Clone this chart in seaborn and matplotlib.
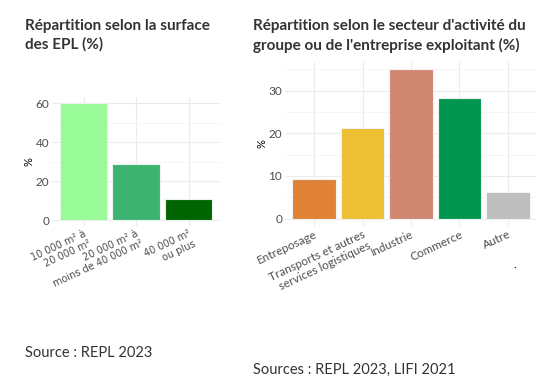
import numpy as np
import pandas as pd
import seaborn as sns
import matplotlib.pyplot as plt
from matplotlib.ticker import MultipleLocator

# data
surface_labels = ["10 000 m² à\n20 000 m²", "20 000 m² à\nmoins de 40 000 m²", "40 000 m²\nou plus"]
surface_values = [60.2, 28.9, 10.9]
surface_colors = ["#98FB98", "#3CB371", "#006400"]

secteur_labels = ["Entreposage", "Transports et autres\nservices logistiques", "Industrie", "Commerce", "Autre"]
secteur_values = [9.4, 21.2, 35.0, 28.2, 6.2]
secteur_colors = ["#E08236", "#EDBF33", "#D18872", "#009650", "#BEBEBE"]

sns.set_theme(style="whitegrid")
plt.rcParams["font.family"] = ["Lato", "DejaVu Sans"]

fig = plt.figure(figsize=(5.43, 3.87), dpi=100)
W, H = 543, 387


def px_axes(x0, y0, x1, y1):
    return fig.add_axes([x0 / W, 1 - y1 / H, (x1 - x0) / W, (y1 - y0) / H])


def style(ax, step, ymax, n, tick_font, tick_size):
    ax.set_facecolor("white")
    for s in ax.spines.values():
        s.set_visible(False)
    ax.set_xlim(-0.6, n - 0.4)
    ax.set_ylim(-ymax * 0.05, ymax * 1.05)
    ax.yaxis.set_major_locator(MultipleLocator(step))
    ax.yaxis.set_minor_locator(MultipleLocator(step / 2))
    ax.grid(True, which="major", color="#EBEBEB", lw=0.8)
    ax.grid(True, which="minor", axis="y", color="#F4F4F4", lw=0.6)
    ax.tick_params(axis="both", which="both", length=0, pad=2)
    ax.tick_params(axis="y", labelsize=8.5, labelcolor="#4D4D4D")
    ax.set_ylabel("%", fontsize=8, color="black", labelpad=1)
    ax.set_xlabel("")
    plt.setp(ax.get_xticklabels(), rotation=25, ha="right", rotation_mode="anchor",
             multialignment="right", linespacing=1.1,
             fontsize=tick_size, color="#4D4D4D", family=tick_font)
    ax.set_axisbelow(True)


# left chart
df1 = pd.DataFrame({"cat": surface_labels, "val": surface_values})
ax1 = px_axes(52, 97, 220, 226)
sns.barplot(data=df1, x="cat", y="val", hue="cat", palette=surface_colors, saturation=1,
            width=0.9, edgecolor="#E8F5E8", linewidth=0.8, legend=False, ax=ax1)
style(ax1, 20, max(surface_values), len(surface_values), "DejaVu Sans", 7)

# right chart
df2 = pd.DataFrame({"cat": secteur_labels, "val": secteur_values})
ax2 = px_axes(285, 62, 537, 226)
sns.barplot(data=df2, x="cat", y="val", hue="cat", palette=secteur_colors, saturation=1,
            width=0.9, edgecolor="#F2F2F2", linewidth=0.8, legend=False, ax=ax2)
style(ax2, 10, max(secteur_values), len(secteur_values), "Lato", 8.5)

# titles and sources
title_kw = dict(fontsize=11, fontweight="bold", color="#333333", va="top", ha="left")
fig.text(25 / W, 1 - 19 / H, "Répartition selon la surface\ndes EPL (%)", linespacing=1.38, **title_kw)
fig.text(253 / W, 1 - 19 / H, "Répartition selon le secteur d'activité du\ngroupe ou de l'entreprise exploitant (%)",
         linespacing=1.38, **title_kw)
src_kw = dict(fontsize=10.5, color="#333333", va="center", ha="left")
fig.text(25 / W, 1 - 353 / H, "Source : REPL 2023", **src_kw)
fig.text(253 / W, 1 - 370 / H, "Sources : REPL 2023, LIFI 2021", **src_kw)
fig.text(515 / W, 1 - 268 / H, ".", fontsize=8, color="black", ha="center")

fig.savefig("out.png", dpi=100, facecolor="white")
